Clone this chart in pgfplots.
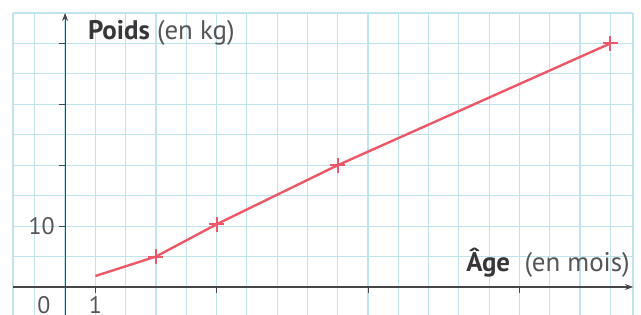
\documentclass[border=0pt]{standalone}
\usepackage{pgfplots}
\pgfplotsset{compat=1.18}
\usepackage{fontspec}
\setmainfont{PT Sans}
\usetikzlibrary{arrows.meta}
\definecolor{gridc}{RGB}{192,228,238}
\definecolor{axisc}{RGB}{70,70,72}
\definecolor{txtc}{RGB}{55,55,58}
\definecolor{txtl}{RGB}{85,85,88}
\definecolor{linec}{RGB}{236,88,104}
\begin{document}
\begin{tikzpicture}
\begin{axis}[
  scale only axis, width=620bp, height=302bp,
  xmin=-1.72, xmax=18.75, ymin=-4.6, ymax=45,
  axis lines=middle,
  axis line style={color=axisc, line width=1.1bp, -{Stealth[length=8bp,width=6bp]}},
  clip=false,
  xtick={1,5,10,15}, xticklabels={1,,,},
  ytick={10,20,30,40}, yticklabels={10,,,},
  minor xtick={-1.72,-1,0,1,2,...,18,18.75},
  minor ytick={-5,0,5,...,45},
  xminorgrids=true, yminorgrids=true,
  xmajorgrids=false, ymajorgrids=false,
  minor grid style={color=gridc, line width=1.2bp},
  minor tick length=0pt,
  major tick length=6bp,
  tick align=outside,
  tick style={color=axisc, line width=0.9bp},
  /pgf/number format/assume math mode=true,
  tick label style={font=\fontsize{24}{26}\selectfont, text=txtl},
  yticklabel style={xshift=-1bp},
]
\addplot[color=linec, line width=2.4bp, no marks] coordinates {(1,1.8) (3,5) (5,10.3) (9,20) (18,40)};
\addplot[color=linec, only marks, mark=+, mark size=7.5bp, mark options={line width=2bp}] coordinates {(3,5) (5,10.3) (9,20) (18,40)};
\node[anchor=west, text=txtc, font=\fontsize{27}{29}\selectfont, inner sep=0pt] at (axis cs:0.75,41.8) {\textbf{Poids} \textcolor{txtl}{(en kg)}};
\node[anchor=east, text=txtc, font=\fontsize{27}{29}\selectfont, inner sep=0pt] at (axis cs:18.65,3.95) {\textbf{Âge}\ \ \textcolor{txtl}{(en mois)}};
\node[text=txtl, font=\fontsize{24}{26}\selectfont] at (axis cs:-0.7,-3.0) {0};
\coordinate (sw) at (rel axis cs:0,0);
\coordinate (ne) at (rel axis cs:1,1);
\end{axis}
\pgfresetboundingbox
\path ([xshift=-13bp]sw) rectangle ([xshift=8bp,yshift=13bp]ne);
\end{tikzpicture}
\end{document}
